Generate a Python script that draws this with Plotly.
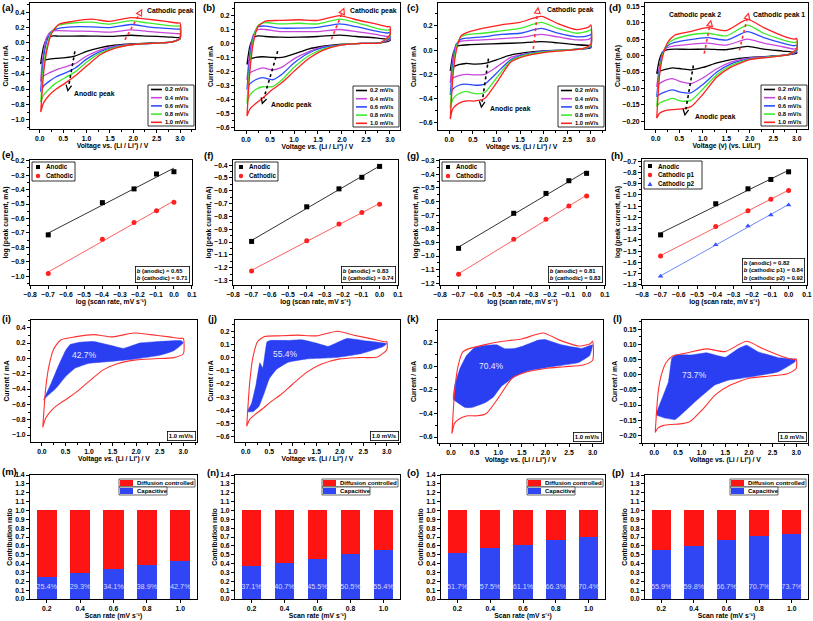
import numpy as np
import plotly.graph_objects as go

W, H = 813, 621
FONT = "Liberation Sans, Arial, sans-serif"

# ---------------- data ----------------
scan_rates = [0.2, 0.4, 0.6, 0.8, 1.0]
rate_names = ["0.2 mV/s", "0.4 mV/s", "0.6 mV/s", "0.8 mV/s", "1.0 mV/s"]

# CV branches (voltage grids shared by all CV curves)
V_up = [0.02, 0.08, 0.15, 0.25, 0.4, 0.7, 1.1, 1.5, 1.95, 2.3, 2.7, 2.95, 3.0]
V_down = [3.0, 2.8, 2.4, 2.0, 1.6, 1.3, 1.0, 0.75, 0.55, 0.35, 0.2, 0.08, 0.02]

a_up = [
    [-0.26, -0.05, 0.06, 0.09, 0.09, 0.09, 0.09, 0.085, 0.10, 0.09, 0.08, 0.07, 0.07],
    [-0.48, -0.12, 0.08, 0.15, 0.16, 0.155, 0.15, 0.14, 0.17, 0.15, 0.13, 0.12, 0.12],
    [-0.62, -0.20, 0.02, 0.15, 0.19, 0.21, 0.21, 0.20, 0.24, 0.21, 0.19, 0.18, 0.18],
    [-0.77, -0.30, -0.05, 0.14, 0.23, 0.26, 0.27, 0.245, 0.29, 0.26, 0.23, 0.22, 0.22],
    [-0.90, -0.40, -0.10, 0.12, 0.24, 0.28, 0.31, 0.28, 0.33, 0.31, 0.28, 0.26, 0.26],
]
a_down = [
    [0.05, 0.01, 0.0, -0.01, -0.03, -0.06, -0.11, -0.17, -0.19, -0.20, -0.21, -0.23, -0.27],
    [0.06, 0.01, -0.005, -0.015, -0.04, -0.09, -0.17, -0.27, -0.31, -0.35, -0.39, -0.43, -0.50],
    [0.06, 0.01, -0.005, -0.02, -0.05, -0.11, -0.21, -0.33, -0.39, -0.44, -0.50, -0.56, -0.63],
    [0.06, 0.01, -0.005, -0.02, -0.06, -0.13, -0.25, -0.38, -0.45, -0.52, -0.60, -0.68, -0.77],
    [0.06, 0.01, -0.005, -0.02, -0.07, -0.15, -0.30, -0.43, -0.52, -0.60, -0.68, -0.78, -0.90],
]
b_up = [
    [-0.15, -0.02, 0.04, 0.055, 0.05, 0.045, 0.045, 0.05, 0.06, 0.05, 0.04, 0.03, 0.03],
    [-0.26, -0.06, 0.06, 0.10, 0.10, 0.085, 0.085, 0.085, 0.10, 0.085, 0.065, 0.05, 0.05],
    [-0.33, -0.10, 0.05, 0.12, 0.125, 0.11, 0.11, 0.115, 0.14, 0.12, 0.09, 0.075, 0.08],
    [-0.43, -0.15, 0.03, 0.13, 0.15, 0.14, 0.145, 0.14, 0.175, 0.15, 0.11, 0.095, 0.10],
    [-0.52, -0.20, 0.00, 0.12, 0.16, 0.165, 0.17, 0.165, 0.20, 0.17, 0.14, 0.12, 0.12],
]
b_down = [
    [0.02, 0.005, 0.0, -0.005, -0.02, -0.04, -0.075, -0.10, -0.10, -0.095, -0.10, -0.115, -0.15],
    [0.03, 0.005, 0.0, -0.01, -0.025, -0.06, -0.11, -0.17, -0.19, -0.175, -0.19, -0.21, -0.26],
    [0.04, 0.005, 0.0, -0.01, -0.03, -0.07, -0.14, -0.22, -0.26, -0.245, -0.26, -0.29, -0.33],
    [0.05, 0.005, 0.0, -0.01, -0.04, -0.09, -0.17, -0.26, -0.31, -0.31, -0.33, -0.37, -0.43],
    [0.06, 0.005, 0.0, -0.01, -0.05, -0.11, -0.20, -0.28, -0.33, -0.39, -0.43, -0.47, -0.52],
]
c_up = [
    [-0.17, -0.03, 0.03, 0.04, 0.045, 0.05, 0.055, 0.06, 0.07, 0.06, 0.045, 0.04, 0.04],
    [-0.27, -0.05, 0.05, 0.075, 0.08, 0.085, 0.095, 0.105, 0.13, 0.11, 0.085, 0.09, 0.10],
    [-0.37, -0.10, 0.05, 0.09, 0.10, 0.11, 0.13, 0.14, 0.18, 0.14, 0.11, 0.12, 0.13],
    [-0.48, -0.15, 0.03, 0.11, 0.13, 0.14, 0.16, 0.18, 0.23, 0.18, 0.14, 0.16, 0.17],
    [-0.57, -0.20, 0.00, 0.12, 0.15, 0.18, 0.21, 0.23, 0.28, 0.22, 0.17, 0.19, 0.21],
]
c_down = [
    [0.02, 0.01, 0.0, -0.005, -0.02, -0.04, -0.08, -0.11, -0.115, -0.11, -0.12, -0.14, -0.17],
    [0.03, 0.01, 0.0, -0.01, -0.03, -0.06, -0.14, -0.20, -0.205, -0.20, -0.21, -0.23, -0.27],
    [0.03, 0.01, 0.0, -0.01, -0.035, -0.08, -0.19, -0.28, -0.29, -0.28, -0.29, -0.32, -0.37],
    [0.04, 0.01, 0.0, -0.015, -0.04, -0.09, -0.23, -0.35, -0.36, -0.34, -0.36, -0.40, -0.48],
    [0.05, 0.01, -0.005, -0.02, -0.05, -0.10, -0.27, -0.40, -0.42, -0.42, -0.44, -0.48, -0.57],
]
d_up = [
    [-0.055, -0.01, 0.012, 0.018, 0.02, 0.019, 0.02, 0.018, 0.028, 0.02, 0.014, 0.01, 0.01],
    [-0.095, -0.03, 0.012, 0.025, 0.03, 0.034, 0.038, 0.032, 0.05, 0.038, 0.027, 0.02, 0.022],
    [-0.125, -0.04, 0.01, 0.03, 0.04, 0.048, 0.055, 0.047, 0.073, 0.055, 0.038, 0.03, 0.032],
    [-0.155, -0.05, 0.005, 0.035, 0.05, 0.062, 0.068, 0.06, 0.093, 0.068, 0.048, 0.04, 0.042],
    [-0.19, -0.06, 0.0, 0.04, 0.062, 0.072, 0.085, 0.076, 0.11, 0.085, 0.06, 0.05, 0.052],
]
d_down = [
    [0.008, 0.002, -0.002, -0.005, -0.012, -0.022, -0.036, -0.043, -0.04, -0.037, -0.042, -0.048, -0.055],
    [0.012, 0.002, -0.003, -0.007, -0.02, -0.04, -0.068, -0.085, -0.08, -0.07, -0.075, -0.085, -0.095],
    [0.015, 0.002, -0.003, -0.009, -0.025, -0.05, -0.088, -0.113, -0.112, -0.104, -0.11, -0.118, -0.125],
    [0.018, 0.002, -0.004, -0.011, -0.03, -0.058, -0.102, -0.136, -0.138, -0.13, -0.137, -0.145, -0.155],
    [0.02, 0.002, -0.005, -0.012, -0.035, -0.065, -0.118, -0.155, -0.162, -0.164, -0.167, -0.175, -0.19],
]

# log(peak current) vs log(scan rate)
e_anodic = [-0.713, -0.49, -0.395, -0.292, -0.276]
e_cathodic = [-0.98, -0.743, -0.628, -0.547, -0.487]
f_anodic = [-0.995, -0.725, -0.585, -0.495, -0.41]
f_cathodic = [-1.225, -0.99, -0.86, -0.77, -0.705]
g_anodic = [-0.943, -0.686, -0.54, -0.447, -0.393]
g_cathodic = [-1.134, -0.877, -0.73, -0.633, -0.559]
h_anodic = [-1.355, -1.078, -0.945, -0.862, -0.794]
h_cathodic_p1 = [-1.544, -1.281, -1.14, -1.039, -0.96]
h_cathodic_p2 = [-1.724, -1.443, -1.275, -1.178, -1.089]
b_texts = {
    "e": ["0.65", "0.71"],
    "f": ["0.83", "0.74"],
    "g": ["0.81", "0.83"],
    "h": ["0.82", "0.84", "0.92"],
}

# capacitive regions at 1.0 mV/s (boundary polygons)
i_cap_V = [0.04, 0.2, 0.35, 0.5, 0.6, 0.8, 1.1, 1.45, 1.73, 2.08, 2.5, 2.96, 3.0, 2.8, 2.5, 1.95, 1.45, 1.0, 0.7, 0.5, 0.3, 0.1]
i_cap_I = [-0.54, -0.32, -0.1, 0.1, 0.18, 0.21, 0.22, 0.17, 0.13, 0.2, 0.22, 0.23, 0.2, 0.1, 0.04, -0.01, -0.04, -0.065, -0.13, -0.24, -0.39, -0.5]
j_cap_V = [0.03, 0.12, 0.22, 0.3, 0.36, 0.45, 0.52, 0.9, 1.2, 1.5, 1.75, 2.15, 2.6, 3.0, 2.9, 2.45, 1.9, 1.3, 0.9, 0.65, 0.5, 0.38, 0.28, 0.15]
j_cap_I = [-0.41, -0.35, -0.2, -0.04, -0.08, 0.12, 0.13, 0.13, 0.135, 0.11, 0.085, 0.145, 0.125, 0.105, 0.08, 0.03, 0.0, -0.01, -0.035, -0.09, -0.16, -0.28, -0.37, -0.41]
k_cap_V = [0.05, 0.08, 0.19, 0.33, 0.51, 0.72, 0.97, 1.14, 1.35, 1.53, 1.85, 1.99, 2.34, 2.77, 3.0, 2.94, 2.7, 2.06, 1.64, 1.35, 1.07, 0.9, 0.72, 0.44, 0.3]
k_cap_I = [-0.28, -0.16, -0.02, 0.09, 0.16, 0.175, 0.18, 0.147, 0.15, 0.17, 0.22, 0.225, 0.18, 0.15, 0.18, 0.09, 0.03, -0.01, -0.04, -0.09, -0.17, -0.26, -0.31, -0.35, -0.35]
l_cap_V = [0.04, 0.16, 0.3, 0.37, 0.44, 0.79, 1.11, 1.35, 1.5, 1.78, 1.95, 2.2, 2.63, 2.98, 2.98, 2.63, 2.06, 1.57, 1.28, 1.07, 0.86, 0.65, 0.44, 0.23]
l_cap_I = [-0.132, -0.08, -0.023, 0.054, 0.065, 0.065, 0.072, 0.062, 0.057, 0.086, 0.097, 0.075, 0.056, 0.051, 0.043, 0.01, -0.007, -0.018, -0.034, -0.061, -0.089, -0.12, -0.148, -0.143]
cap_percent = {"i": "42.7%", "j": "55.4%", "k": "70.4%", "l": "73.7%"}

# capacitive contribution ratios
m_capacitive = [0.254, 0.293, 0.341, 0.389, 0.427]
n_capacitive = [0.371, 0.407, 0.455, 0.505, 0.554]
o_capacitive = [0.517, 0.575, 0.611, 0.663, 0.704]
p_capacitive = [0.559, 0.598, 0.667, 0.707, 0.737]

# ---------------- styling / layout helpers ----------------
cv_colors = ["#000000", "#C846DC", "#2B4BFF", "#3EEB2A", "#FF2020"]
RED = "#FF1414"
BLUE = "#3046F5"
CAP_BLUE = "#2A3FF2"

panels = "abcdefghijklmnop"
idx = {p: i + 1 for i, p in enumerate(panels)}
frames = {
    "a": (30, 195, 3, 129), "b": (235, 400, 3, 130), "c": (438, 605, 3, 130), "d": (645, 808, 3, 129),
    "e": (30, 192, 160, 285), "f": (233, 398, 160, 285), "g": (440, 605, 160, 285), "h": (642, 807, 159, 285),
    "i": (31, 197, 320, 442), "j": (235, 400, 320, 442), "k": (438, 603, 320, 443), "l": (642, 808, 320, 443),
    "m": (30, 197, 475, 599), "n": (235, 400, 475, 599), "o": (441, 605, 475, 599), "p": (645, 808, 475, 599),
}

volt_title = "Voltage vs. (Li / Li\u207a) / V"
volt_title_it = "Voltage <i>vs.</i> (Li / Li\u207a) / V"
axis_cfg = {
    "a": dict(xr=[-0.21, 3.32], yr=[-1.12, 0.52], dy=0.2, fy=".1f", xt=volt_title, yt="Current / mA"),
    "b": dict(xr=[-0.23, 3.21], yr=[-0.62, 0.29], dy=0.1, fy=".1f", xt=volt_title_it, yt="Current / mA"),
    "c": dict(xr=[-0.24, 3.3], yr=[-0.66, 0.39], dy=0.2, fy=".1f", xt=volt_title, yt="Current / mA"),
    "d": dict(xr=[-0.23, 3.24], yr=[-0.223, 0.16], dy=0.05, fy=".2f", xt="Voltage (v) (vs. Li/Li\u207a)",
              yt="Current (mA)"),
    "i": dict(xr=[-0.23, 3.29], yr=[-1.09, 0.5], dy=0.2, fy=".1f", xt=volt_title_it, yt="Current / mA"),
    "j": dict(xr=[-0.23, 3.28], yr=[-0.64, 0.285], dy=0.1, fy=".1f", xt=volt_title_it, yt="Current / mA"),
    "k": dict(xr=[-0.275, 3.22], yr=[-0.65, 0.39], dy=0.2, fy=".1f", xt=volt_title, yt="Current / mA"),
    "l": dict(xr=[-0.26, 3.25], yr=[-0.225, 0.18], dy=0.05, fy=".2f", xt=volt_title, yt="Current / mA"),
    "e": dict(yr=[-1.06, -0.195]),
    "f": dict(yr=[-1.335, -0.36]),
    "g": dict(yr=[-1.212, -0.295]),
    "h": dict(yr=[-1.801, -0.68]),
}


def X(px):
    return px / W


def Y(py):
    return 1 - py / H


def xa(p):
    k = idx[p]
    return "x" if k == 1 else f"x{k}"


def ya(p):
    k = idx[p]
    return "y" if k == 1 else f"y{k}"


def data_px(p, x, y):
    L, R, T, B = frames[p]
    xr, yr = axis_cfg[p]["xr"], axis_cfg[p]["yr"]
    return (L + (x - xr[0]) / (xr[1] - xr[0]) * (R - L), B - (y - yr[0]) / (yr[1] - yr[0]) * (B - T))


fig = go.Figure()
shapes = []
annotations = []


def tfont(size=7, bold=True, color="black"):
    return dict(family=FONT, size=size, color=color, weight="bold" if bold else "normal")


def text_px(x, y, s, size=7, xanchor="left", color="black", bold=True):
    annotations.append(dict(xref="paper", yref="paper", x=X(x), y=Y(y), text=s, showarrow=False,
                            xanchor=xanchor, yanchor="middle", font=tfont(size, bold, color)))


def rect_px(x0, y0, x1, y1, line_color="black", fill="white", lw=0.8):
    shapes.append(dict(type="rect", xref="paper", yref="paper", x0=X(x0), x1=X(x1), y0=Y(y1), y1=Y(y0),
                       line=dict(color=line_color, width=lw), fillcolor=fill, layer="above"))


# ---- row 1: CV curves ----
def add_cv_panel(p, ups, downs):
    for i in range(5):
        xs = V_down + V_up + [V_down[0]]
        ys = downs[i] + ups[i] + [downs[i][0]]
        fig.add_trace(go.Scatter(x=xs, y=ys, mode="lines", name=rate_names[i],
                                 line=dict(color=cv_colors[i], width=1.3, shape="spline", smoothing=0.6),
                                 xaxis=xa(p), yaxis=ya(p), hoverinfo="skip"))
    L, R, T, B = frames[p]
    x0 = R - 47
    rect_px(x0, B - 44, R - 1, B - 3)
    for i in range(5):
        yy = B - 39.5 + 8.2 * i
        shapes.append(dict(type="line", xref="paper", yref="paper", x0=X(x0 + 3), x1=X(x0 + 14), y0=Y(yy), y1=Y(yy),
                           line=dict(color=cv_colors[i], width=1.6), layer="above"))
        text_px(x0 + 15, yy, rate_names[i], size=5.8)


add_cv_panel("a", a_up, a_down)
add_cv_panel("b", b_up, b_down)
add_cv_panel("c", c_up, c_down)
add_cv_panel("d", d_up, d_down)


def peak_arrow(p, x0, y0, x1, y1, color, filled):
    sx, sy = data_px(p, x0, y0)
    tx, ty = data_px(p, x1, y1)
    dx, dy = tx - sx, ty - sy
    n = (dx * dx + dy * dy) ** 0.5
    ux, uy = dx / n, dy / n
    bx, by = tx - 5.5 * ux, ty - 5.5 * uy
    c1 = (bx - 2.8 * uy, by + 2.8 * ux)
    c2 = (bx + 2.8 * uy, by - 2.8 * ux)
    shapes.append(dict(type="line", xref="paper", yref="paper", x0=X(sx), y0=Y(sy), x1=X(bx), y1=Y(by),
                       line=dict(color=color, width=1.6, dash="dot")))
    if filled:
        path = f"M {X(c1[0])},{Y(c1[1])} L {X(tx)},{Y(ty)} L {X(c2[0])},{Y(c2[1])} Z"
        shapes.append(dict(type="path", xref="paper", yref="paper", path=path, fillcolor="white",
                           line=dict(color=color, width=1.2)))
    else:
        path = f"M {X(c1[0])},{Y(c1[1])} L {X(tx)},{Y(ty)} L {X(c2[0])},{Y(c2[1])}"
        shapes.append(dict(type="path", xref="paper", yref="paper", path=path,
                           line=dict(color=color, width=1.3)))


def data_text(p, x, y, s, xanchor="left"):
    annotations.append(dict(xref=xa(p), yref=ya(p), x=x, y=y, text=s, showarrow=False,
                            xanchor=xanchor, yanchor="middle", font=tfont(6.8)))


peak_arrow("a", 0.75, -0.11, 0.6, -0.62, "black", False)
data_text("a", 0.68, -0.665, "Anodic peak")
peak_arrow("a", 1.82, 0.04, 2.18, 0.43, "#FF3030", True)
data_text("a", 2.25, 0.41, "Cathodic peak")

peak_arrow("b", 0.66, -0.055, 0.34, -0.43, "black", False)
data_text("b", 0.47, -0.44, "Anodic peak")
peak_arrow("b", 1.78, 0.03, 2.04, 0.25, "#FF3030", True)
data_text("b", 2.13, 0.235, "Cathodic peak")

peak_arrow("c", 0.83, -0.07, 0.68, -0.47, "black", False)
data_text("c", 0.82, -0.49, "Anodic peak")
peak_arrow("c", 1.78, 0.01, 1.88, 0.35, "#FF3030", True)
data_text("c", 2.02, 0.33, "Cathodic peak")

peak_arrow("d", 0.8, -0.03, 0.62, -0.18, "black", False)
data_text("d", 0.8, -0.186, "Anodic peak")
peak_arrow("d", 1.03, 0.006, 1.17, 0.106, "#FF3030", True)
data_text("d", 0.83, 0.124, "Cathodic peak 2", xanchor="center")
peak_arrow("d", 1.78, 0.016, 1.97, 0.128, "#FF3030", True)
data_text("d", 2.02, 0.124, "Cathodic peak 1")

# ---- row 2: log-log fits ----
log_rate = [float(v) for v in np.log10(scan_rates)]
SYM_SHAPE = {"square": "square", "circle": "circle", "triangle": "triangle-up"}


def add_log_panel(p, series):
    for name, vals, col, sym, lcol in series:
        k, b0 = np.polyfit(log_rate, vals, 1)
        xf = [log_rate[0], log_rate[-1]]
        fig.add_trace(go.Scatter(x=xf, y=[k * x + b0 for x in xf], mode="lines", line=dict(color=lcol, width=1),
                                 xaxis=xa(p), yaxis=ya(p), hoverinfo="skip"))
    for name, vals, col, sym, lcol in series:
        fig.add_trace(go.Scatter(x=log_rate, y=vals, mode="markers", name=name,
                                 marker=dict(symbol=SYM_SHAPE[sym], size=5, color=col),
                                 xaxis=xa(p), yaxis=ya(p), hoverinfo="skip"))
    L, R, T, B = frames[p]
    n = len(series)
    wbox = 43 if n == 2 else 58
    x0 = L + 2
    rect_px(x0, T + 2, x0 + wbox, T + 3 + 9 * n)
    for i, (name, vals, col, sym, lcol) in enumerate(series):
        cy = T + 7 + 9 * i
        cx = x0 + 6
        if sym == "square":
            shapes.append(dict(type="rect", xref="paper", yref="paper", x0=X(cx - 2), x1=X(cx + 2), y0=Y(cy + 2),
                               y1=Y(cy - 2), fillcolor=col, line=dict(width=0), layer="above"))
        elif sym == "circle":
            shapes.append(dict(type="circle", xref="paper", yref="paper", x0=X(cx - 2.2), x1=X(cx + 2.2),
                               y0=Y(cy + 2.2), y1=Y(cy - 2.2), fillcolor=col, line=dict(width=0), layer="above"))
        else:
            path = f"M {X(cx - 2.5)},{Y(cy + 2)} L {X(cx + 2.5)},{Y(cy + 2)} L {X(cx)},{Y(cy - 2.5)} Z"
            shapes.append(dict(type="path", xref="paper", yref="paper", path=path, fillcolor=col,
                               line=dict(width=0), layer="above"))
        text_px(x0 + 12, cy, name, size=6.3)
    labels = ["anodic", "cathodic"] if n == 2 else ["anodic", "cathodic p1", "cathodic p2"]
    lines = [f"<i>b</i> ({lab}) = {val}" for lab, val in zip(labels, b_texts[p])]
    annotations.append(dict(xref="paper", yref="paper", x=X(R - 2), y=Y(B - 2), xanchor="right", yanchor="bottom",
                            text="<br>".join(lines), showarrow=False, align="left", font=tfont(5.8),
                            bordercolor="black", borderwidth=0.8, borderpad=1, bgcolor="white"))


add_log_panel("e", [("Anodic", e_anodic, "black", "square", "#333333"),
                    ("Cathodic", e_cathodic, "#FF2020", "circle", "#FF6060")])
add_log_panel("f", [("Anodic", f_anodic, "black", "square", "#333333"),
                    ("Cathodic", f_cathodic, "#FF2020", "circle", "#FF6060")])
add_log_panel("g", [("Anodic", g_anodic, "black", "square", "#333333"),
                    ("Cathodic", g_cathodic, "#FF2020", "circle", "#FF6060")])
add_log_panel("h", [("Anodic", h_anodic, "black", "square", "#333333"),
                    ("Cathodic p1", h_cathodic_p1, "#FF2020", "circle", "#FF6060"),
                    ("Cathodic p2", h_cathodic_p2, "#3A55FF", "triangle", "#7088FF")])


# ---- row 3: capacitive contribution at 1.0 mV/s ----
def add_cap_panel(p, capV, capI, ups, downs, tx, ty):
    fig.add_trace(go.Scatter(x=capV + [capV[0]], y=capI + [capI[0]], mode="lines", fill="toself",
                             fillcolor=CAP_BLUE, line=dict(width=0.5, color=CAP_BLUE, shape="spline", smoothing=0.3),
                             xaxis=xa(p), yaxis=ya(p), hoverinfo="skip"))
    xs = V_down + V_up + [V_down[0]]
    ys = downs[4] + ups[4] + [downs[4][0]]
    fig.add_trace(go.Scatter(x=xs, y=ys, mode="lines", line=dict(color="#FF3030", width=1.1, shape="spline",
                                                                  smoothing=0.6),
                             xaxis=xa(p), yaxis=ya(p), hoverinfo="skip"))
    annotations.append(dict(xref=xa(p), yref=ya(p), x=tx, y=ty, text=cap_percent[p], showarrow=False,
                            font=tfont(8.5, False, "#E8E8FF")))
    L, R, T, B = frames[p]
    annotations.append(dict(xref="paper", yref="paper", x=X(R - 1), y=Y(B - 1), xanchor="right", yanchor="bottom",
                            text=rate_names[4], showarrow=False, font=tfont(6), bordercolor="black",
                            borderwidth=0.8, borderpad=1, bgcolor="white"))


add_cap_panel("i", i_cap_V, i_cap_I, a_up, a_down, 0.9, 0.05)
add_cap_panel("j", j_cap_V, j_cap_I, b_up, b_down, 0.85, 0.03)
add_cap_panel("k", k_cap_V, k_cap_I, c_up, c_down, 0.85, 0.0)
add_cap_panel("l", l_cap_V, l_cap_I, d_up, d_down, 0.85, 0.0)


# ---- row 4: stacked bars ----
def add_bar_panel(p, cap):
    diff = [round(1 - c, 4) for c in cap]
    fig.add_trace(go.Bar(x=scan_rates, y=cap, width=0.12, name="Capacitive", marker=dict(color=BLUE, line=dict(width=0)),
                         xaxis=xa(p), yaxis=ya(p), hoverinfo="skip"))
    fig.add_trace(go.Bar(x=scan_rates, y=diff, width=0.12, name="Diffusion controlled",
                         marker=dict(color=RED, line=dict(width=0)), xaxis=xa(p), yaxis=ya(p), hoverinfo="skip"))
    fig.add_trace(go.Scatter(x=scan_rates, y=[0.13] * len(cap), mode="text",
                             text=[f"{c * 100:.1f}%" for c in cap], textfont=tfont(7.3, False, "#D6D6FF"),
                             xaxis=xa(p), yaxis=ya(p), hoverinfo="skip"))
    L, R, T, B = frames[p]
    x0 = R - 78
    entries = [("Diffusion controlled", RED, R - 2), ("Capacitive", BLUE, x0 + 48)]
    for i, (name, col, xr) in enumerate(entries):
        top = T + 4 + 8 * i
        rect_px(x0, top, xr, top + 8, lw=0.6)
        shapes.append(dict(type="rect", xref="paper", yref="paper", x0=X(x0 + 1), x1=X(x0 + 14), y0=Y(top + 7),
                           y1=Y(top + 1), fillcolor=col, line=dict(width=0), layer="above"))
        text_px(x0 + 16, top + 4.2, name, size=6.0)


add_bar_panel("m", m_capacitive)
add_bar_panel("n", n_capacitive)
add_bar_panel("o", o_capacitive)
add_bar_panel("p", p_capacitive)


# ---------------- axes ----------------
def base_axis():
    return dict(showline=True, linecolor="black", linewidth=1, mirror=True, ticks="outside", ticklen=3,
                tickwidth=1, tickcolor="black", showgrid=False, zeroline=False, automargin=False,
                tickfont=tfont(6.8), title=dict(font=tfont(6.8), standoff=1))


layout_axes = {}
for p in panels:
    k = idx[p]
    L, R, T, B = frames[p]
    xk = "xaxis" if k == 1 else f"xaxis{k}"
    yk = "yaxis" if k == 1 else f"yaxis{k}"
    xd = base_axis()
    yd = base_axis()
    xd.update(domain=[X(L), X(R)], anchor=ya(p))
    yd.update(domain=[Y(B), Y(T)], anchor=xa(p))
    if p in "abcdijkl":
        c = axis_cfg[p]
        xd.update(range=c["xr"], dtick=0.5, tick0=0, tickformat=".1f",
                  minor=dict(ticks="outside", ticklen=2, dtick=0.25, tick0=0, tickcolor="black"))
        xd["title"]["text"] = c["xt"]
        yd.update(range=c["yr"], dtick=c["dy"], tick0=0, tickformat=c["fy"],
                  minor=dict(ticks="outside", ticklen=2, dtick=c["dy"] / 2, tick0=0, tickcolor="black"))
        yd["title"]["text"] = c["yt"]
    elif p in "efgh":
        c = axis_cfg[p]
        xd.update(range=[-0.8005, 0.1005], dtick=0.1, tick0=0, tickformat=".1f")
        xd["title"]["text"] = "log (scan rate, mV s\u207b\u00b9)"
        yd.update(range=c["yr"], dtick=0.1, tick0=0, tickformat=".1f",
                  minor=dict(ticks="outside", ticklen=2, dtick=0.05, tick0=0, tickcolor="black"))
        yd["title"]["text"] = "log (peak current, mA)"
    else:
        xd.update(range=[0.1, 1.1], tickvals=scan_rates, ticktext=[f"{v:.1f}" for v in scan_rates])
        xd["title"]["text"] = "Scan rate (mV s\u207b\u00b9)"
        yd.update(range=[0, 1.4005], dtick=0.1, tick0=0, tickformat=".1f")
        yd["title"]["text"] = "Contribution ratio"
    layout_axes[xk] = xd
    layout_axes[yk] = yd

# panel labels
label_pos = {"a": (0, 7), "b": (201, 7), "c": (405, 7), "d": (607, 7),
             "e": (0, 154), "f": (202, 155), "g": (405, 155), "h": (609, 155),
             "i": (0, 318), "j": (206, 318), "k": (405, 318), "l": (611, 318),
             "m": (0, 471), "n": (205, 472), "o": (405, 472), "p": (610, 472)}
for p, (lx, ly) in label_pos.items():
    text_px(lx, ly, f"({p})", size=9.5)

fig.update_layout(
    width=W, height=H, margin=dict(l=0, r=0, t=0, b=0),
    paper_bgcolor="white", plot_bgcolor="white",
    showlegend=False, barmode="stack",
    font=dict(family=FONT, size=7, color="black"),
    shapes=shapes, annotations=annotations,
    **layout_axes,
)

fig.write_html("out.html", config={"displayModeBar": False},
               post_script="document.body.style.margin='0px';document.body.style.overflow='hidden';")
